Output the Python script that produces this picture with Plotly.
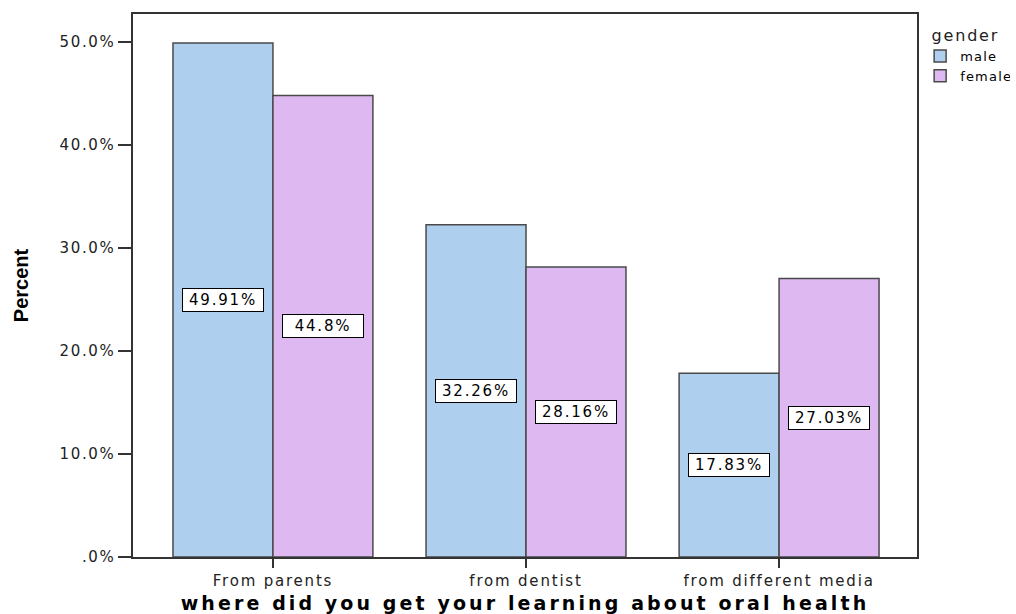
import plotly.graph_objects as go

# Survey results: source of oral-health learning, split by gender
categories = ["From parents", "from dentist", "from different media"]
male_pct = [49.91, 32.26, 17.83]
female_pct = [44.8, 28.16, 27.03]
label_male = ["49.91%", "32.26%", "17.83%"]
label_female = ["44.8%", "28.16%", "27.03%"]

y_ticks = [0, 10, 20, 30, 40, 50]
y_tick_text = [".0%", "10.0%", "20.0%", "30.0%", "40.0%", "50.0%"]

MALE_COLOR = "#AECFEE"
FEMALE_COLOR = "#DEB9F1"
EDGE = "#4a4a4a"
FRAME = "#333333"
BAR_W = 0.395
FONT = "DejaVu Sans, Verdana, Arial, sans-serif"

# Page and plot-area geometry (pixels)
W, H = 1016, 614
M_L, M_R, M_T, M_B = 133, 99, 14, 57
PLOT_W, PLOT_H = W - M_L - M_R, H - M_T - M_B

xs = list(range(len(categories)))

fig = go.Figure()
fig.add_trace(go.Bar(
    x=xs, y=male_pct, name="male", width=BAR_W, offset=-BAR_W,
    marker=dict(color=MALE_COLOR, line=dict(color=EDGE, width=1.5)),
))
fig.add_trace(go.Bar(
    x=xs, y=female_pct, name="female", width=BAR_W, offset=0,
    marker=dict(color=FEMALE_COLOR, line=dict(color=EDGE, width=1.5)),
))

# Boxed value labels centred half-way up each bar
for i in xs:
    for val, txt, dx in ((male_pct[i], label_male[i], -BAR_W / 2),
                         (female_pct[i], label_female[i], BAR_W / 2)):
        fig.add_annotation(
            x=i + dx, y=val / 2, xref="x", yref="y", text=txt, showarrow=False,
            font=dict(family=FONT, size=15, color="black"),
            width=76, height=18, align="center", bgcolor="white",
            bordercolor="black", borderwidth=1, borderpad=2,
        )

# Legend heading
fig.add_annotation(
    x=(935 - M_L) / PLOT_W, y=(M_T + PLOT_H - 35) / PLOT_H,
    xref="paper", yref="paper", text="gender", showarrow=False,
    font=dict(family=FONT, size=16, color="#222"), xanchor="left", yanchor="middle",
)

fig.update_layout(
    width=W, height=H,
    margin=dict(l=M_L, r=M_R, t=M_T, b=M_B, autoexpand=False),
    paper_bgcolor="white", plot_bgcolor="white",
    showlegend=True,
    legend=dict(
        x=1.004, y=(M_T + PLOT_H - 41) / PLOT_H, xanchor="left", yanchor="top",
        font=dict(family=FONT, size=13, color="black"),
        itemwidth=30, tracegroupgap=0, bgcolor="rgba(0,0,0,0)",
        borderwidth=0,
    ),
    xaxis=dict(
        range=[-0.553, 2.545], tickmode="array", tickvals=xs, ticktext=categories,
        showline=True, linecolor=FRAME, linewidth=1.5, mirror=True,
        ticks="outside", ticklen=9, tickcolor=FRAME, tickwidth=1.5,
        showgrid=False, zeroline=False,
        tickfont=dict(family=FONT, size=15, color="#222"),
        title=dict(text="<b>where did you get your learning about oral health</b>",
                   font=dict(family=FONT, size=19, color="black"),
                   standoff=8),
    ),
    yaxis=dict(
        range=[0, 52.72], tickmode="array", tickvals=y_ticks, ticktext=y_tick_text,
        showline=True, linecolor=FRAME, linewidth=1.5, mirror=True,
        ticks="outside", ticklen=13, tickcolor=FRAME, tickwidth=1.5,
        showgrid=False, zeroline=False,
        tickfont=dict(family=FONT, size=15, color="#222"),
        title=dict(text="<b>Percent</b>",
                   font=dict(family="Liberation Sans Narrow, Arial Narrow, sans-serif", size=20, color="black"),
                   standoff=34),
    ),
)

# Wide lettering for the axis, legend and label text
spacing_js = """
var gd = document.getElementsByClassName('plotly-graph-div')[0];
function spread(sel, px) {
  gd.querySelectorAll(sel).forEach(function (t) { t.style.letterSpacing = px + 'px'; });
}
spread('.xtick text', 1.8);
spread('.ytick text', 1.6);
spread('.g-xtitle text', 3.1);
spread('.legendtext', 1.2);
spread('.annotation-text', 1.8);
"""

fig.write_html("out.html", post_script=spacing_js)
